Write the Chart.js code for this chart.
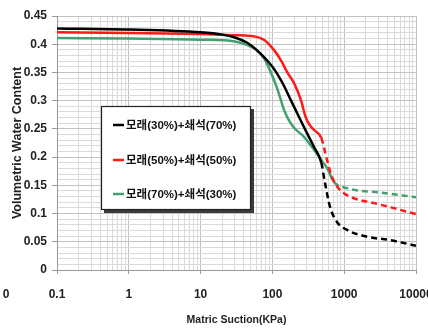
<head>
  <script src="https://cdn.jsdelivr.net/npm/chart.js"></script>
  <style>
    body { margin: 0; background: #fff; }
  </style>
</head>

<body>
  <canvas id="myChart" width="428" height="329"></canvas>
  <script>
    // series labels
    var seriesNames = [
      "모래(30%)+쇄석(70%)",
      "모래(50%)+쇄석(50%)",
      "모래(70%)+쇄석(30%)",
    ];
    var seriesColors = ["#000000", "#ff1a1a", "#44a070"];

    // matric suction (kPa) and volumetric water content
    var blackX = [0.1, 1, 10, 20, 30, 44, 60, 100, 140, 182, 250, 302, 380, 480, 540, 634, 794, 1094, 2080, 4350, 10000];
    var blackY = [0.428, 0.426, 0.421, 0.417, 0.412, 0.403, 0.39, 0.36, 0.33, 0.3, 0.264, 0.243, 0.218, 0.19, 0.154, 0.112, 0.085, 0.071, 0.059, 0.053, 0.043];
    var redX = [0.1, 1, 10, 30, 55, 76, 105, 131, 160, 200, 250, 290, 330, 380, 480, 576, 676, 872, 1320, 2510, 4780, 10000];
    var redY = [0.421, 0.42, 0.418, 0.416, 0.414, 0.408, 0.39, 0.372, 0.351, 0.331, 0.301, 0.271, 0.257, 0.248, 0.234, 0.195, 0.165, 0.142, 0.128, 0.119, 0.11, 0.099];
    var greenX = [0.1, 1, 10, 30, 44, 60, 76, 105, 125, 145, 170, 200, 275, 380, 510, 575, 720, 1100, 3240, 10000];
    var greenY = [0.411, 0.41, 0.408, 0.405, 0.399, 0.39, 0.376, 0.337, 0.31, 0.284, 0.265, 0.252, 0.236, 0.213, 0.19, 0.181, 0.156, 0.145, 0.137, 0.129];

    // measured part ends here, the rest is drawn dashed
    var dashFrom = [480, 480, 720];

    var xTickLabels = ["0.1", "1", "10", "100", "1000", "10000"];
    var yTickLabels = ["0", "0.05", "0.1", "0.15", "0.2", "0.25", "0.3", "0.35", "0.4", "0.45"];

    var sans = "'Liberation Sans', Arial, sans-serif";
    var tickFont = { family: sans, size: 12, weight: "bold" };
    var gridMinor = "#dadada";
    var gridMajor = "#c2c2c2";

    function toPoints(xs, ys) {
      return xs.map(function (x, i) { return { x: x, y: ys[i] }; });
    }

    function makeSet(i, xs, ys) {
      return {
        label: seriesNames[i],
        data: toPoints(xs, ys),
        borderColor: seriesColors[i],
        backgroundColor: seriesColors[i],
        borderWidth: 2.5,
        pointRadius: 0,
        showLine: true,
        cubicInterpolationMode: "monotone",
        segment: {
          borderDash: function (ctx) {
            return ctx.p0.parsed.x >= dashFrom[i] ? [6, 4] : undefined;
          },
        },
      };
    }

    function isDecade(v) {
      var l = Math.log10(v);
      return Math.abs(l - Math.round(l)) < 1e-9;
    }
    function isYMajor(v) {
      return Math.abs(v * 20 - Math.round(v * 20)) < 1e-6;
    }

    // legend box drawn inside the plot, with a shadow
    var boxLegend = {
      id: "boxLegend",
      afterDraw: function (chart) {
        var ctx = chart.ctx;
        ctx.save();
        ctx.fillStyle = "#3a3a3a";
        ctx.fillRect(104, 109, 150, 104);
        ctx.fillStyle = "#fff";
        ctx.fillRect(101, 106, 150, 104);
        ctx.strokeStyle = "#222";
        ctx.lineWidth = 1.2;
        ctx.strokeRect(101.5, 106.5, 149, 103);
        var rows = [125, 160, 194];
        ctx.font = "bold 11.5px 'Liberation Sans', 'Noto Sans CJK KR', sans-serif";
        ctx.textBaseline = "middle";
        for (var i = 0; i < seriesNames.length; i++) {
          ctx.strokeStyle = seriesColors[i];
          ctx.lineWidth = 2.5;
          ctx.beginPath();
          ctx.moveTo(113, rows[i]);
          ctx.lineTo(124, rows[i]);
          ctx.stroke();
          ctx.fillStyle = "#111";
          ctx.fillText(seriesNames[i], 126, rows[i] + 1);
        }
        // stray "0" label Excel puts left of the first x tick
        ctx.font = "bold 12px " + sans;
        ctx.textAlign = "center";
        ctx.fillStyle = "#222";
        ctx.fillText("0", 6, chart.scales.x.top + 25);
        ctx.restore();
      },
    };

    new Chart("myChart", {
      type: "scatter",
      data: {
        datasets: [
          makeSet(0, blackX, blackY),
          makeSet(1, redX, redY),
          makeSet(2, greenX, greenY),
        ],
      },
      options: {
        responsive: false,
        animation: false,
        layout: { padding: { top: 16, right: 12, left: 0, bottom: 0 } },
        plugins: {
          legend: { display: false },
          tooltip: { enabled: false },
        },
        scales: {
          x: {
            type: "logarithmic",
            min: 0.1,
            max: 10000,
            afterBuildTicks: function (scale) {
              var ticks = [];
              for (var e = -1; e <= 3; e++) {
                for (var s = 1; s <= 9; s++) {
                  ticks.push({ value: Number((s * Math.pow(10, e)).toPrecision(12)) });
                }
              }
              ticks.push({ value: 10000 });
              scale.ticks = ticks;
            },
            afterFit: function (scale) {
              scale.height = 59;
              scale.paddingLeft = 0;
              scale.paddingRight = 0;
            },
            ticks: {
              autoSkip: false,
              maxRotation: 0,
              padding: 13,
              color: "#222",
              font: tickFont,
              callback: function (v) {
                if (!isDecade(v)) return "";
                return xTickLabels[Math.round(Math.log10(v)) + 1];
              },
            },
            grid: {
              color: function (c) { return c.tick && isDecade(c.tick.value) ? gridMajor : gridMinor; },
              tickLength: 4,
              tickColor: function (c) { return c.tick && isDecade(c.tick.value) ? "#999" : "rgba(0,0,0,0)"; },
            },
            border: { color: "#999" },
            title: {
              display: true,
              text: "Matric Suction(KPa)",
              color: "#222",
              font: { family: sans, size: 10.5, weight: "bold" },
              padding: { top: 0, bottom: 3 },
            },
          },
          y: {
            min: 0,
            max: 0.45,
            afterFit: function (scale) {
              scale.width = 57;
            },
            ticks: {
              stepSize: 0.01,
              maxTicksLimit: 100,
              autoSkip: false,
              padding: 5,
              color: "#222",
              font: tickFont,
              callback: function (v) {
                if (!isYMajor(v)) return "";
                return yTickLabels[Math.round(v * 20)];
              },
            },
            grid: {
              color: function (c) { return c.tick && isYMajor(c.tick.value) ? gridMajor : gridMinor; },
              tickLength: 5,
              tickColor: function (c) { return c.tick && isYMajor(c.tick.value) ? "#999" : "rgba(0,0,0,0)"; },
            },
            border: { color: "#999" },
            title: {
              display: true,
              text: "Volumetric Water Content",
              color: "#222",
              font: { family: sans, size: 12.5, weight: "bold" },
              padding: { top: 10, bottom: 0 },
            },
          },
        },
      },
      plugins: [boxLegend],
    });
  </script>
</body>
